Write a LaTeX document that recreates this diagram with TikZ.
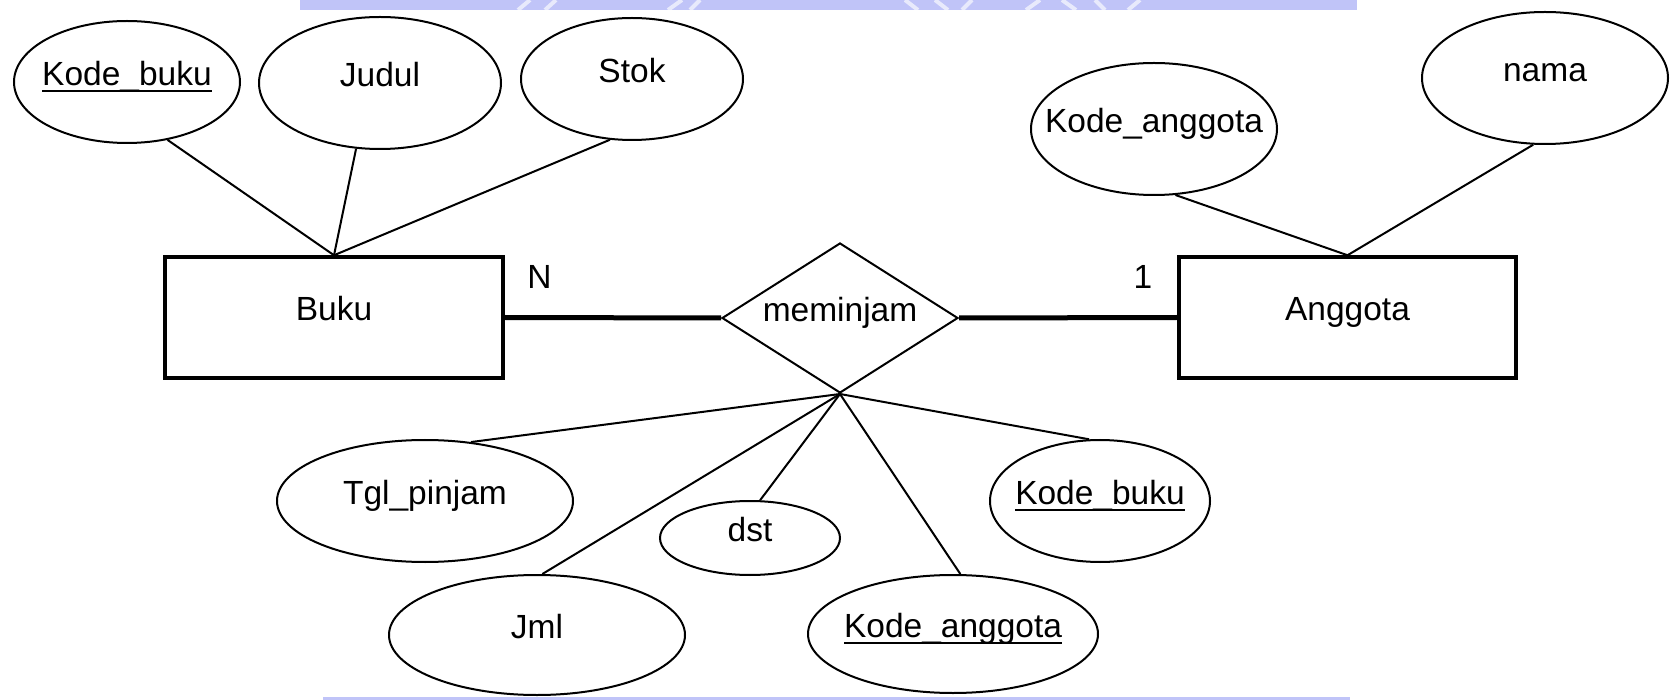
\documentclass[tikz,border=0pt]{standalone}
\usepackage{fontspec}
\setmainfont{Liberation Sans}
\usetikzlibrary{shapes.geometric}
\definecolor{wmark}{RGB}{192,196,248}
\definecolor{wlight}{RGB}{232,234,252}
\newcommand\myul[1]{\setbox0\hbox{#1}\rlap{\raisebox{-0.19em}{\rule{\wd0}{0.055em}}}\box0}
\tikzset{
  lbl/.style={font=\fontsize{33.5}{40}\selectfont, text height=0.72em, text depth=0.06em, inner sep=0pt},
  attr/.style={draw, ellipse, line width=2pt, inner sep=0pt, lbl},
  ent/.style={draw, rectangle, line width=3.5pt, inner sep=0pt, lbl},
  rel/.style={draw, diamond, line width=2pt, inner sep=0pt, lbl},
  conn/.style={line width=2pt},
  thick conn/.style={line width=5pt},
  card/.style={lbl},
  wstroke/.style={wlight, line width=4pt}
}
\newcommand\attrnode[5]{\node[attr, minimum width=#3, minimum height=#4] (#1) at (#2) {\makebox[0pt]{#5}};}
\begin{document}
\begin{tikzpicture}[x=1pt, y=-1pt]
\useasboundingbox (0,0) rectangle (1671,700);
\fill[white] (0,0) rectangle (1671,700);
% watermark fragments
\fill[wmark] (300,0) rectangle (1357,10);
\begin{scope}
\clip (300,0) rectangle (1357,10);
\draw[wstroke] (518,10) -- (530,0);
\draw[wstroke] (545,10) -- (556,0);
\draw[wstroke] (668,10) -- (682,0);
\draw[wstroke] (700,0) -- (690,10);
\draw[wstroke] (905,0) -- (918,10);
\draw[wstroke] (935,0) -- (948,10);
\draw[wstroke] (962,10) -- (972,0);
\draw[wstroke] (1026,10) -- (1040,0);
\draw[wstroke] (1062,0) -- (1076,10);
\draw[wstroke] (1095,0) -- (1105,10);
\draw[wstroke] (1128,10) -- (1140,0);
\end{scope}
\fill[wmark] (323,697) rectangle (1350,700);

% entities
\node[ent, minimum width=338, minimum height=121] (buku) at (334,317.5) {\makebox[0pt]{Buku}};
\node[ent, minimum width=337, minimum height=121] (anggota) at (1347.5,317.5) {\makebox[0pt]{Anggota}};
% relationship
\node[rel, minimum width=236, minimum height=150] (pinjam) at (840,318) {\makebox[0pt]{meminjam}};

% attributes
\attrnode{kb1}{127,82}{226}{122}{\myul{Kode\_buku}}
\attrnode{judul}{380,83}{242}{132}{Judul}
\attrnode{stok}{632,79}{222}{122}{Stok}
\attrnode{ka1}{1154,129}{246}{132}{Kode\_anggota}
\attrnode{nama}{1545,78}{246}{132}{nama}
\attrnode{tgl}{425,501}{296}{122}{Tgl\_pinjam}
\attrnode{dst}{750,538}{180}{74}{dst}
\attrnode{kb2}{1100,501}{220}{122}{\myul{Kode\_buku}}
\attrnode{jml}{537,635}{296}{120}{Jml}
\attrnode{ka2}{953,634}{290}{118}{\myul{Kode\_anggota}}

% cardinalities
\node[card] (cN) at (539.5,285) {N};
\node[card] (c1) at (1143,285) {1};

% connectors
\draw[thick conn] (buku.east) -- (pinjam.west);
\draw[thick conn] (pinjam.east) -- (anggota.west);
\draw[conn] (kb1.-55) -- (buku.north);
\draw[conn] (judul.-110) -- (buku.north);
\draw[conn] (stok.-110) -- (buku.north);
\draw[conn] (ka1.-72) -- (anggota.north);
\draw[conn] (nama.-100) -- (anggota.north);
\draw[conn] (pinjam.south) -- (tgl.52);
\draw[conn] (pinjam.south) -- (jml.85);
\draw[conn] (pinjam.south) -- (dst.75);
\draw[conn] (pinjam.south) -- (ka2.83);
\draw[conn] (pinjam.south) -- (kb2.100);
\end{tikzpicture}
\end{document}
